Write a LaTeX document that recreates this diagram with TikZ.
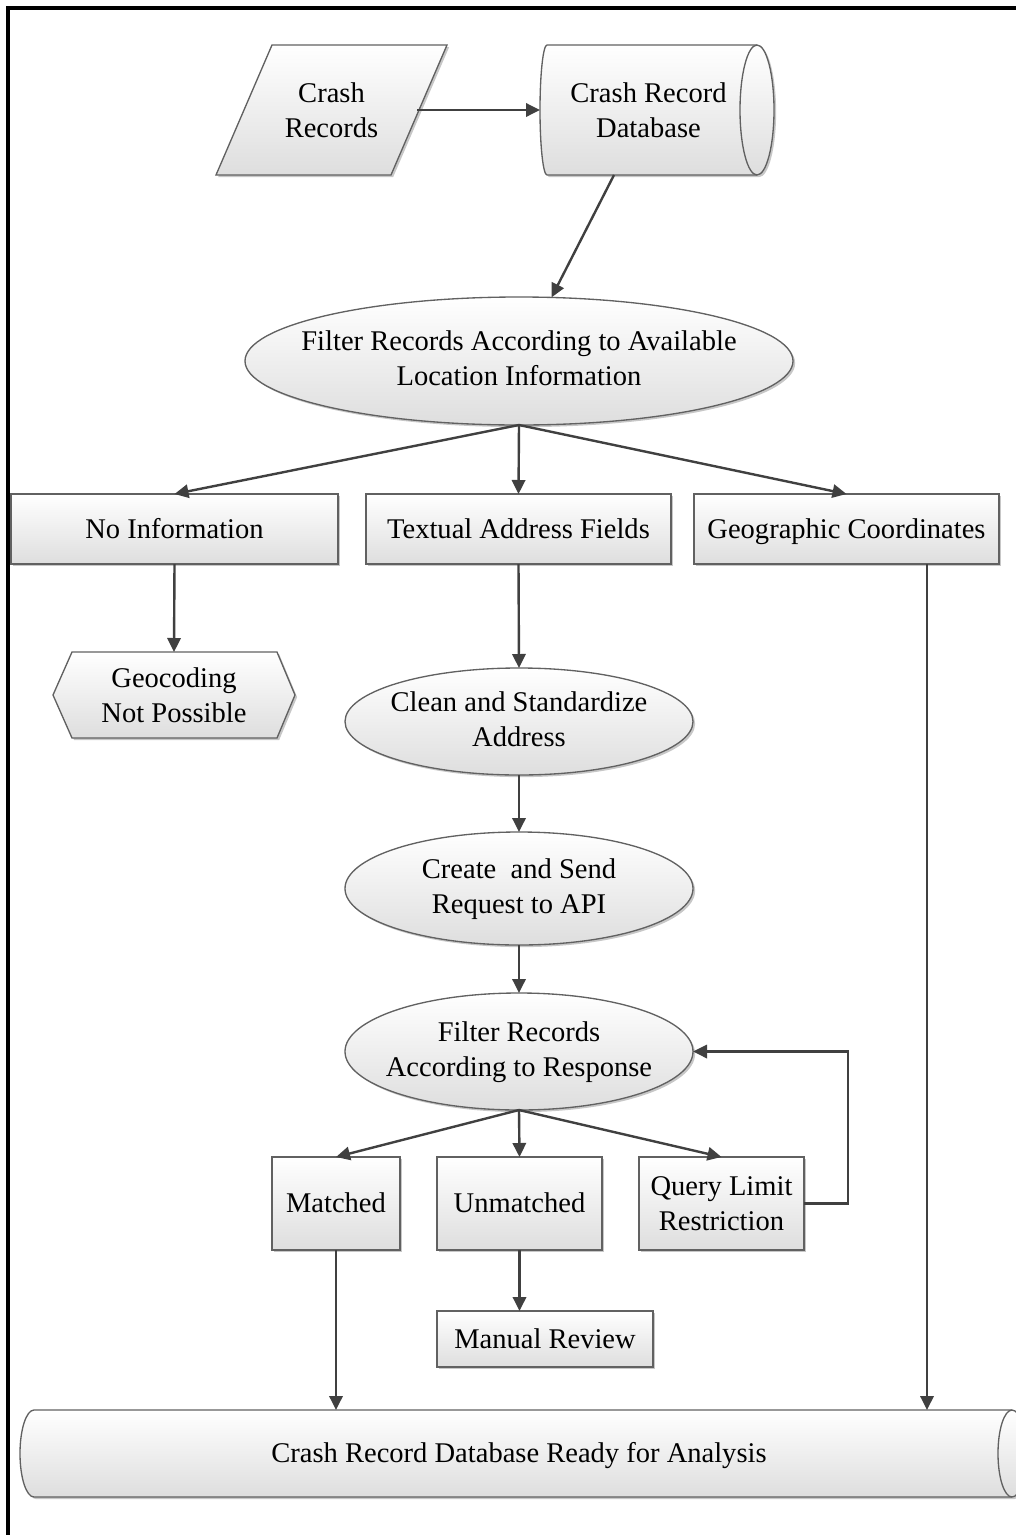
\documentclass[tikz,border=0pt]{standalone}
\usepackage{fontspec}
\setmainfont{Liberation Serif}
\usetikzlibrary{shapes.geometric,arrows.meta,shadows,calc}
\newcommand\dgfont{\fontsize{21.4pt}{26.25pt}\selectfont}
\newcommand\ztext[1]{\makebox[0pt]{\begin{tabular}{@{}c@{}}#1\end{tabular}}}
\begin{document}
\begin{tikzpicture}[x=0.75pt,y=0.75pt,
  shapefill/.style={top color=white,bottom color=black!13,draw=black!62,line width=1pt,
     drop shadow={shadow xshift=1.6pt,shadow yshift=-1.6pt,opacity=0.22,fill=black}},
  edgeline/.style={draw=black!62,line width=1pt},
  procbox/.style={shapefill,rectangle,inner sep=0pt,outer sep=0pt,align=center,font=\dgfont},
  oneline/.style={text height=18pt,text depth=3.8pt},
  procell/.style={shapefill,ellipse,inner sep=0pt,outer sep=0pt,font=\dgfont},
  txt/.style={rectangle,inner sep=0pt,outer sep=0pt,align=center,font=\dgfont},
  arr/.style={draw=black!75,line width=1.8pt,-{Triangle[length=10.5pt,width=10pt]}},
  frameline/.style={line width=2.3pt,black}]

\useasboundingbox (0,0) rectangle (1016,-1535);
\draw[frameline] (8,-1535) -- (8,-8) -- (1016,-8);

% parallelogram
\path[shapefill] (272,-45) -- (447,-45) -- (391,-175) -- (216,-175) -- cycle;
\node[txt,minimum width=171.5*0.75pt,minimum height=130*0.75pt] (P) at (331.5,-110) {Crash\\Records};

% top cylinder
\path[shapefill] (547,-45) -- (757,-45) arc[start angle=90,end angle=-90,x radius=17,y radius=65]
  -- (547,-175) arc[start angle=270,end angle=90,x radius=7,y radius=65] -- cycle;
\draw[edgeline] (757,-175) arc[start angle=-90,end angle=-270,x radius=17,y radius=65];
\node[txt,minimum width=217*0.75pt,minimum height=130*0.75pt] (DB) at (648.5,-110) {Crash Record\\Database};

% ellipse 1
\node[procell,minimum width=548*0.75pt,minimum height=128*0.75pt] (E1) at (519,-361)
  {\ztext{Filter Records According to Available\\Location Information}};

% first row of boxes
\node[procbox,oneline,minimum width=327*0.75pt,minimum height=70*0.75pt] (NI) at (174.5,-529) {No Information};
\node[procbox,oneline,minimum width=305*0.75pt,minimum height=70*0.75pt] (TA) at (518.5,-529) {Textual Address Fields};
\node[procbox,oneline,minimum width=305*0.75pt,minimum height=70*0.75pt] (GC) at (846.5,-529) {Geographic Coordinates};

% hexagon
\path[shapefill] (53,-695) -- (72,-652) -- (277,-652) -- (295,-695) -- (277,-738) -- (72,-738) -- cycle;
\node[txt,minimum width=242*0.75pt,minimum height=86*0.75pt] (H) at (174,-695) {Geocoding\\Not Possible};

% ellipses 2-4
\node[procell,minimum width=348*0.75pt,minimum height=107*0.75pt] (E2) at (519,-721.5)
  {\ztext{Clean and Standardize\\Address}};
\node[procell,minimum width=348*0.75pt,minimum height=113*0.75pt] (E3) at (519,-888.5)
  {\ztext{Create\ \ and Send\\Request to API}};
\node[procell,minimum width=348*0.75pt,minimum height=117*0.75pt] (E4) at (519,-1051.5)
  {\ztext{Filter Records\\According to Response}};

% second row of boxes
\node[procbox,oneline,minimum width=128*0.75pt,minimum height=93*0.75pt] (MA) at (336,-1203.5) {Matched};
\node[procbox,oneline,minimum width=165*0.75pt,minimum height=93*0.75pt] (UN) at (519.5,-1203.5) {Unmatched};
\node[procbox,minimum width=165*0.75pt,minimum height=93*0.75pt] (QL) at (721.5,-1203.5) {Query Limit\\Restriction};
\node[procbox,oneline,minimum width=216*0.75pt,minimum height=56*0.75pt] (MR) at (545,-1339) {Manual Review};

% bottom cylinder
\path[shapefill] (34,-1410) -- (1012,-1410) arc[start angle=90,end angle=-90,x radius=14,y radius=43.5]
  -- (34,-1497) arc[start angle=270,end angle=90,x radius=14,y radius=43.5] -- cycle;
\draw[edgeline] (1012,-1497) arc[start angle=-90,end angle=-270,x radius=14,y radius=43.5];
\node[txt,oneline,minimum width=986*0.75pt,minimum height=87*0.75pt] (DB2) at (519,-1453.5) {Crash Record Database Ready for Analysis};

% connectors
\draw[arr] (P.east) -- (DB.west);
\coordinate (dbout) at ($(DB.south)+(-34.5,0)$);
\draw[arr] (dbout) -- (E1);
\draw[arr] (E1.south) -- (NI.north);
\draw[arr] (E1.south) -- (TA.north);
\draw[arr] (E1.south) -- (GC.north);
\draw[arr] (NI.south) -- (H.north);
\draw[arr] (TA.south) -- (E2.north);
\draw[arr] (E2.south) -- (E3.north);
\draw[arr] (E3.south) -- (E4.north);
\draw[arr] (E4.south) -- (MA.north);
\draw[arr] (E4.south) -- (UN.north);
\draw[arr] (E4.south) -- (QL.north);
\draw[arr] (UN.south) -- (UN.south |- MR.north);
\draw[arr] (QL.east) -- ++(44,0) |- (E4.east);
\draw[arr] (MA.south) -- (MA.south |- DB2.north);
\coordinate (gcout) at ($(GC.south east)+(-72,0)$);
\draw[arr] (gcout) -- (gcout |- DB2.north);
\end{tikzpicture}
\end{document}
